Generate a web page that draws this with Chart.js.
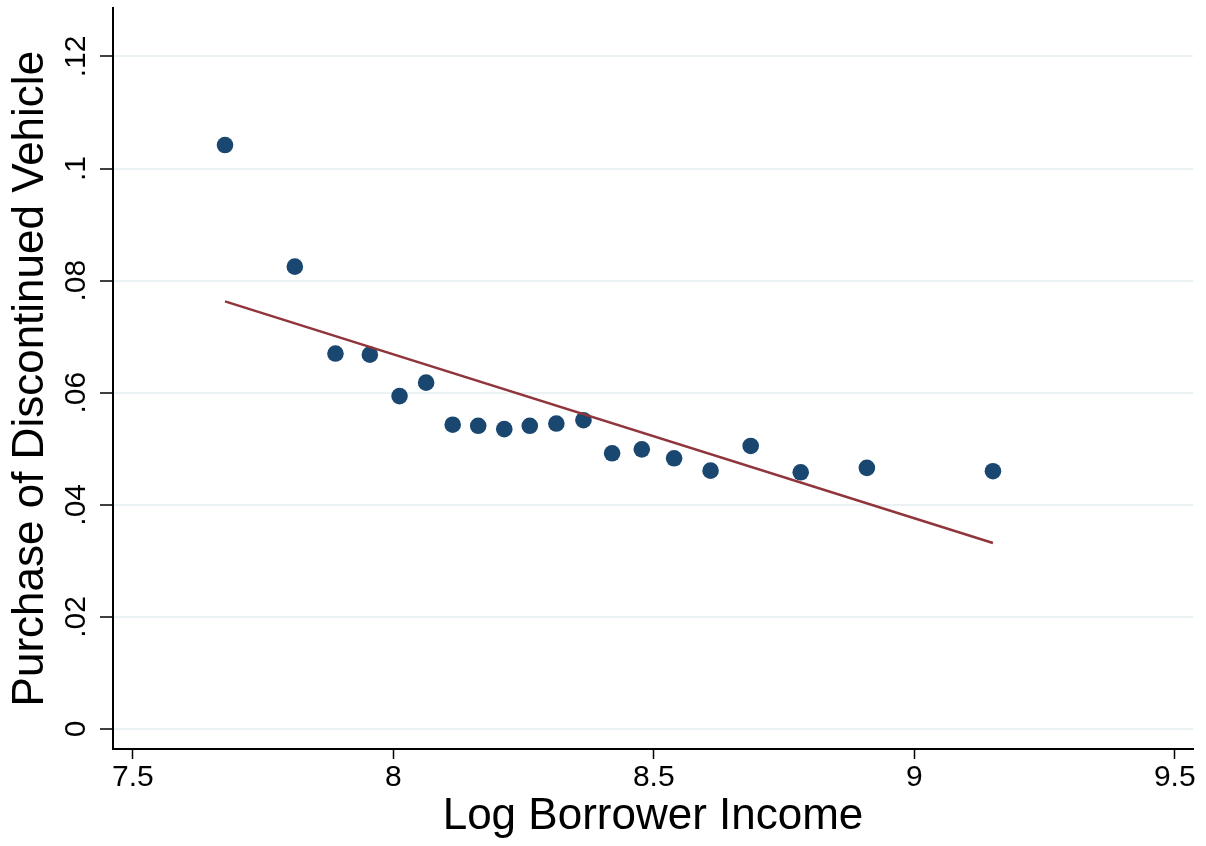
<!DOCTYPE html>
<html>
<head>
<meta charset="utf-8">
<script src="https://cdn.jsdelivr.net/npm/chart.js@4/dist/chart.umd.min.js"></script>
<style>
  html, body { margin: 0; padding: 0; background: #ffffff; }
  canvas { display: block; }
</style>
</head>
<body>
<canvas id="chart" width="1206" height="846"></canvas>
<script>
// Binned means of discontinued-vehicle purchases by log borrower income
const binIncome = [7.677, 7.811, 7.889, 7.955, 8.012, 8.063, 8.114, 8.163, 8.213, 8.262,
                   8.313, 8.365, 8.420, 8.477, 8.539, 8.609, 8.686, 8.782, 8.909, 9.151];
const binShare  = [0.1042, 0.0825, 0.0670, 0.0668, 0.0594, 0.0618, 0.0543, 0.0541, 0.0535, 0.0541,
                   0.0545, 0.0551, 0.0492, 0.0499, 0.0483, 0.0461, 0.0505, 0.0458, 0.0466, 0.0460];

// Linear fit, drawn between its two end points
const fitIncome = [7.677, 9.151];
const fitShare  = [0.0763, 0.0332];

// Axis ticks
const xTickValues = [7.5, 8, 8.5, 9, 9.5];
const xTickLabels = ['7.5', '8', '8.5', '9', '9.5'];
const yTickValues = [0, 0.02, 0.04, 0.06, 0.08, 0.10, 0.12];
const yTickLabels = ['0', '.02', '.04', '.06', '.08', '.1', '.12'];

const FONT = '"Liberation Sans", Arial, Helvetica, sans-serif';

// Vertical tick labels on the y axis, reading bottom to top
const rotatedYTicks = {
  id: 'rotatedYTicks',
  afterDraw(chart) {
    const scale = chart.scales.y;
    const ctx = chart.ctx;
    ctx.save();
    ctx.fillStyle = '#000000';
    ctx.font = '30px ' + FONT;
    ctx.textAlign = 'center';
    ctx.textBaseline = 'alphabetic';
    yTickValues.forEach((v, i) => {
      const py = scale.getPixelForValue(v);
      ctx.save();
      ctx.translate(85, py);
      ctx.rotate(-Math.PI / 2);
      ctx.fillText(yTickLabels[i], 0, 0);
      ctx.restore();
    });
    ctx.restore();
  }
};

const whiteBackground = {
  id: 'whiteBackground',
  beforeDraw(chart) {
    const ctx = chart.ctx;
    ctx.save();
    ctx.fillStyle = '#ffffff';
    ctx.fillRect(0, 0, chart.width, chart.height);
    ctx.restore();
  }
};

new Chart(document.getElementById('chart'), {
  type: 'scatter',
  data: {
    datasets: [
      {
        type: 'line',
        label: 'Linear fit',
        data: fitIncome.map((x, i) => ({ x, y: fitShare[i] })),
        borderColor: '#90353b',
        borderWidth: 2.5,
        pointRadius: 0,
        fill: false,
        tension: 0
      },
      {
        label: 'Binned means',
        data: binIncome.map((x, i) => ({ x, y: binShare[i] })),
        backgroundColor: '#1a476f',
        borderWidth: 0,
        pointRadius: 8.3,
        pointHoverRadius: 8.3
      }
    ]
  },
  options: {
    responsive: false,
    devicePixelRatio: 1,
    animation: false,
    layout: { padding: { top: 8, right: 13, left: 0, bottom: 0 } },
    plugins: {
      legend: { display: false },
      tooltip: { enabled: false }
    },
    scales: {
      x: {
        type: 'linear',
        min: 7.462,
        max: 9.535,
        afterBuildTicks(scale) { scale.ticks = xTickValues.map(v => ({ value: v })); },
        afterFit(scale) { scale.height = 97; scale.paddingLeft = 0; scale.paddingRight = 0; },
        ticks: {
          autoSkip: false,
          maxRotation: 0,
          minRotation: 0,
          padding: 4,
          color: '#000000',
          font: { family: FONT, size: 30, lineHeight: 1 },
          callback(value) {
            const i = xTickValues.findIndex(v => Math.abs(v - value) < 1e-9);
            return i >= 0 ? xTickLabels[i] : '';
          }
        },
        grid: {
          drawOnChartArea: false,
          drawTicks: true,
          tickLength: 10,
          tickColor: '#000000',
          tickWidth: 1.5
        },
        border: { display: true, color: '#000000', width: 2 },
        title: {
          display: true,
          text: 'Log Borrower Income',
          color: '#000000',
          font: { family: FONT, size: 44, lineHeight: 1 },
          padding: { top: 0, bottom: 7 }
        }
      },
      y: {
        type: 'linear',
        min: -0.00357,
        max: 0.1286,
        afterBuildTicks(scale) { scale.ticks = yTickValues.map(v => ({ value: v })); },
        afterFit(scale) { scale.width = 113; scale.paddingTop = 0; scale.paddingBottom = 0; },
        ticks: { display: false },
        grid: {
          drawOnChartArea: true,
          color: '#eaf2f3',
          lineWidth: 2,
          drawTicks: true,
          tickLength: 13,
          tickColor: '#000000',
          tickWidth: 1.5
        },
        border: { display: true, color: '#000000', width: 2 },
        title: {
          display: true,
          text: 'Purchase of Discontinued Vehicle',
          color: '#000000',
          font: { family: FONT, size: 44, lineHeight: 1 },
          padding: { top: 9, bottom: 0 }
        }
      }
    }
  },
  plugins: [whiteBackground, rotatedYTicks]
});
</script>
</body>
</html>
